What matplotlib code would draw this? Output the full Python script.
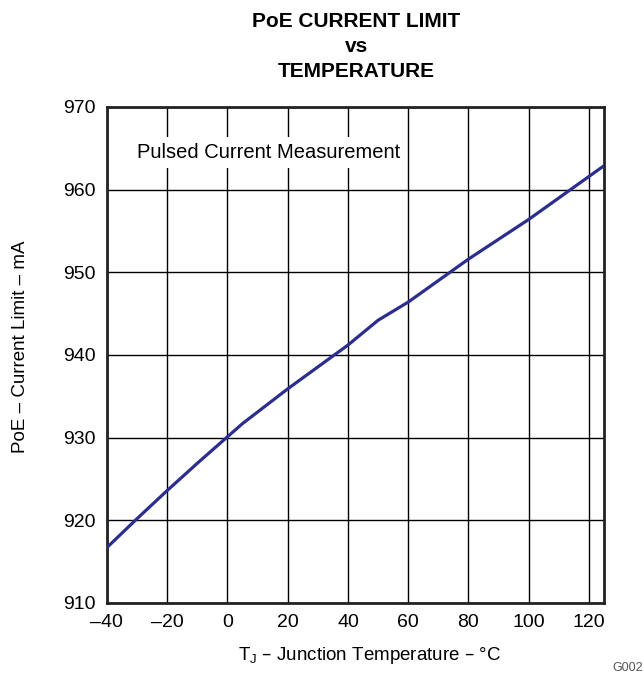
import matplotlib
matplotlib.use("Agg")
import matplotlib.pyplot as plt

plt.rcParams['font.family'] = ['Liberation Sans', 'DejaVu Sans']

# data
temp_c = [-40, -30, -20, -10, 0, 5, 20, 40, 50, 60, 80, 100, 120, 125]
current_ma = [916.7, 920.2, 923.6, 926.9, 930.1, 931.7, 935.9, 941.2, 944.2,
              946.4, 951.6, 956.4, 961.6, 962.9]
x_ticks = [-40, -20, 0, 20, 40, 60, 80, 100, 120]
y_ticks = [910, 920, 930, 940, 950, 960, 970]

fig = plt.figure(figsize=(6.44, 6.75), dpi=100)
ax = fig.add_axes([0.166, 0.1067, 0.772, 0.7348])

ax.plot(temp_c, current_ma, color='#2b2e8f', lw=2.3, zorder=3)

ax.set_xlim(-40, 125)
ax.set_ylim(910, 970)
ax.set_xticks(x_ticks)
ax.set_yticks(y_ticks)
ax.set_xticklabels([str(t).replace('-', '\u2013') for t in x_ticks])
ax.grid(True, color='black', lw=1.0, zorder=1)
ax.tick_params(length=0, labelsize=14, pad=8)
for s in ax.spines.values():
    s.set_linewidth(2.0)
    s.set_color('#222222')

ax.text(-30, 964.5, 'Pulsed Current Measurement', fontsize=14.5, va='center',
        ha='left', zorder=2,
        bbox=dict(facecolor='white', edgecolor='none', pad=4))

ax.set_xlabel('T$_\\mathregular{J}$ \u2013 Junction Temperature \u2013 \u00b0C',
              fontsize=13.5)
ax.xaxis.set_label_coords(0.529, -0.085)
ax.set_ylabel('PoE \u2013 Current Limit \u2013 mA', fontsize=13.5)
ax.yaxis.set_label_coords(-0.157, 0.516)

fig.text(0.553, 0.931, 'PoE CURRENT LIMIT\nvs\nTEMPERATURE', ha='center',
         va='center', fontsize=15, fontweight='bold', linespacing=1.42)
fig.text(0.998, 0.006, 'G002', fontsize=9, color='#555555', ha='right')

fig.savefig('out.png', dpi=100)
